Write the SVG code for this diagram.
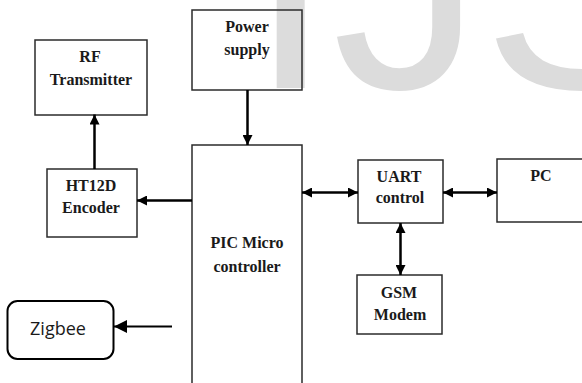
<svg xmlns="http://www.w3.org/2000/svg" width="582" height="383" viewBox="0 0 582 383">
<style>
.box{fill:none;stroke:#2b2b2b;stroke-width:1.5}
.t{font-family:"Liberation Serif","Times New Roman",serif;font-weight:bold;font-size:16px;fill:#1a1a1a;text-anchor:middle}
.z{font-family:"Open Sans","Noto Sans",sans-serif;font-size:18px;fill:#1a1a1a;text-anchor:middle}
.c{fill:none;stroke:#000;stroke-width:2.5}
.wm{font-family:"Liberation Sans",Arial,sans-serif;font-size:300px;fill:#dcdcdc}
</style>
<defs>
<marker id="ah" viewBox="0 0 10 10" refX="10" refY="5" markerWidth="10" markerHeight="10" markerUnits="userSpaceOnUse" orient="auto-start-reverse">
<path d="M0,0 L10,5 L0,10 z" fill="#000"/>
</marker>
<marker id="ah2" viewBox="0 0 10 10" refX="10" refY="5" markerWidth="15" markerHeight="13" markerUnits="userSpaceOnUse" orient="auto">
<path d="M0,0 L10,5 L0,10 z" fill="#000"/>
</marker>
</defs>
<text class="wm" x="249" y="88">IJSER</text>
<g id="rf">
<rect class="box" x="35" y="40" width="112" height="75"/>
<text class="t" x="90" y="62">RF</text>
<text class="t" x="91" y="85">Transmitter</text>
</g>
<g id="power">
<rect class="box" x="192" y="10" width="110" height="80"/>
<text class="t" x="247" y="32">Power</text>
<text class="t" x="247" y="55">supply</text>
</g>
<g id="ht12d">
<rect class="box" x="47" y="169" width="90" height="68"/>
<text class="t" x="91" y="191">HT12D</text>
<text class="t" x="91" y="213">Encoder</text>
</g>
<g id="pic">
<path class="box" d="M192,384 V145 H302 V384"/>
<text class="t" x="247" y="248">PIC Micro</text>
<text class="t" x="247" y="272">controller</text>
</g>
<g id="uart">
<rect class="box" x="358" y="160" width="85" height="63"/>
<text class="t" x="399" y="182">UART</text>
<text class="t" x="400" y="203">control</text>
</g>
<g id="pc">
<path class="box" d="M584,159 H497 V222 H584"/>
<text class="t" x="541" y="181">PC</text>
</g>
<g id="gsm">
<rect class="box" x="357" y="275" width="85" height="59"/>
<text class="t" x="399" y="298">GSM</text>
<text class="t" x="400" y="320">Modem</text>
</g>
<g id="zigbee">
<rect x="7.5" y="301" width="106" height="58" rx="10" ry="10" fill="none" stroke="#000" stroke-width="2"/>
<text class="z" x="58" y="335">Zigbee</text>
</g>
<g id="connectors">
<path class="c" d="M247.5,90 V145" marker-end="url(#ah)"/>
<path class="c" d="M94.5,169 V114.5" marker-end="url(#ah)"/>
<path class="c" d="M192,200.5 H137" marker-end="url(#ah)"/>
<path class="c" d="M302,192.5 H358" marker-start="url(#ah)" marker-end="url(#ah)"/>
<path class="c" d="M443,192.5 H497" marker-start="url(#ah)" marker-end="url(#ah)"/>
<path class="c" d="M400.5,223 V275" marker-start="url(#ah)" marker-end="url(#ah)"/>
<path d="M172,326.5 H114" fill="none" stroke="#000" stroke-width="2" marker-end="url(#ah2)"/>
</g>
</svg>
